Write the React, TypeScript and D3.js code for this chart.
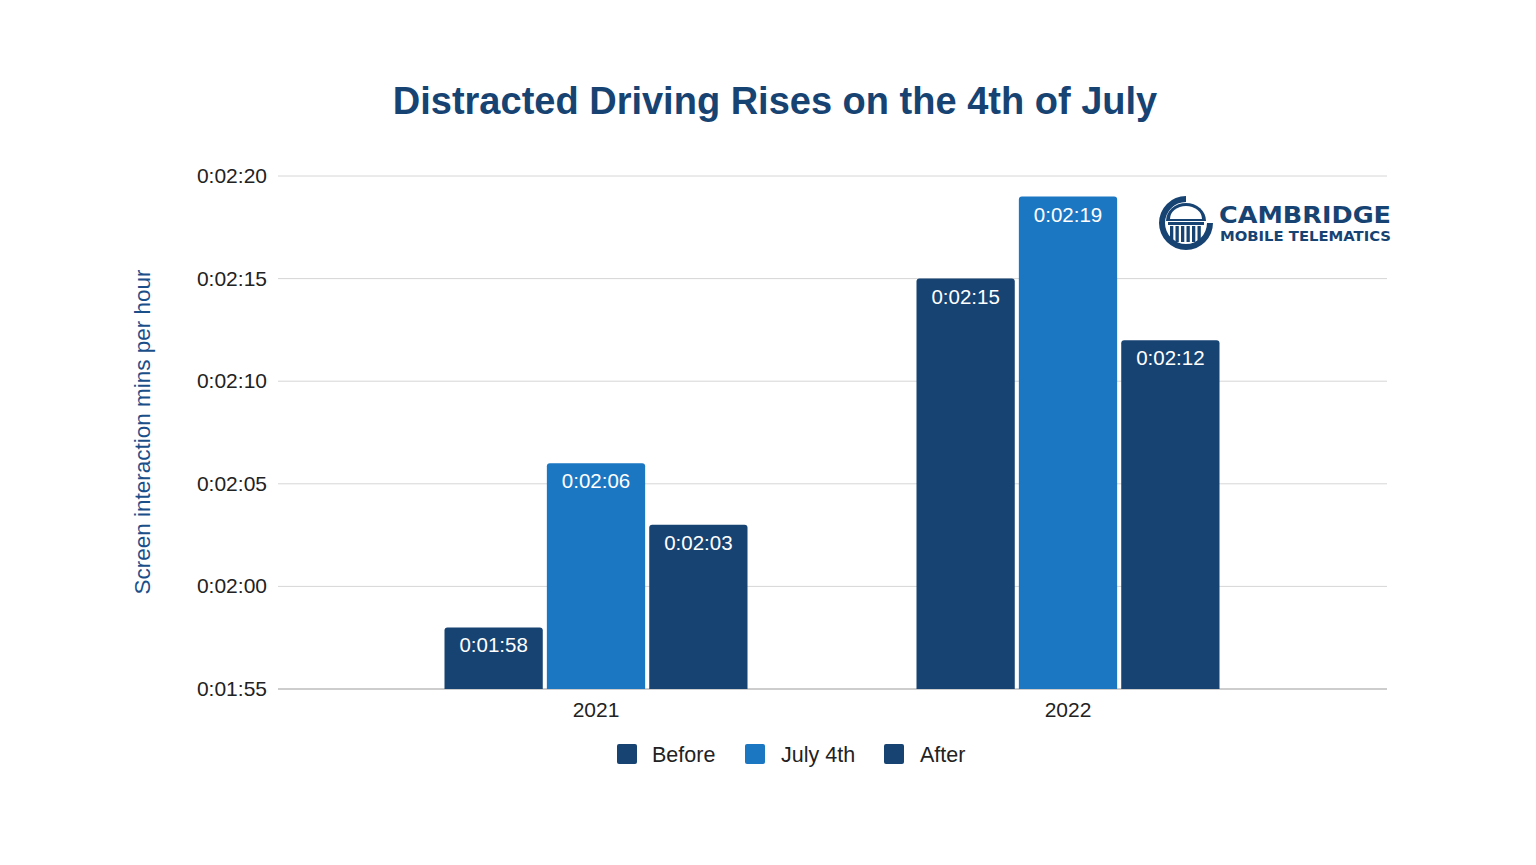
import React from "react";
import * as d3 from "d3";

const years = ["2021", "2022"];
const seriesNames = ["Before", "July 4th", "After"];
const beforeValues = [118, 135];
const july4Values = [126, 139];
const afterValues = [123, 132];
const yTicks = [115, 120, 125, 130, 135, 140];

const DARK = "#174373";
const LIGHT = "#1c77c3";
const seriesColors = [DARK, LIGHT, DARK];

const fmt = (s: number) => {
  const m = Math.floor(s / 60);
  const sec = s % 60;
  return `0:${String(m).padStart(2, "0")}:${String(sec).padStart(2, "0")}`;
};

export default function App() {
  const W = 1536, H = 865;
  const y = d3.scaleLinear().domain([115, 140]).range([689, 176]);
  const x0 = d3.scaleBand().domain(years).range([360, 1304]).paddingInner(0).paddingOuter(0);
  const x1 = d3.scaleBand().domain(seriesNames).range([84.5, 472 - 84.5]).paddingInner(0.04);
  const series = [beforeValues, july4Values, afterValues];
  const font = "'Liberation Sans', Arial, sans-serif";

  const roundTop = (x: number, yTop: number, w: number, h: number, r: number) =>
    `M${x},${yTop + h}V${yTop + r}Q${x},${yTop} ${x + r},${yTop}H${x + w - r}Q${x + w},${yTop} ${x + w},${yTop + r}V${yTop + h}Z`;

  const legendItems = [
    { name: "Before", sx: 617, tx: 652 },
    { name: "July 4th", sx: 745, tx: 781 },
    { name: "After", sx: 884, tx: 920 },
  ];

  return (
    <svg width={W} height={H} style={{ display: "block", margin: -8 }} fontFamily={font}>
      <rect width={W} height={H} fill="#fff" />
      <text x={775} y={114} textAnchor="middle" fontSize={38} fontWeight="bold" fill={DARK}>
        Distracted Driving Rises on the 4th of July
      </text>
      {yTicks.map((t) => (
        <g key={t}>
          <line x1={278} x2={1387} y1={y(t)} y2={y(t)} stroke={t === 115 ? "#bdbdbd" : "#d6d6d6"} strokeWidth={t === 115 ? 1.5 : 1} />
          <text x={267} y={y(t) + 7} textAnchor="end" fontSize={21} fill="#222">
            {fmt(t)}
          </text>
        </g>
      ))}
      <text transform="translate(150,432) rotate(-90)" textAnchor="middle" fontSize={22.5} fill="#1b4f8a">
        Screen interaction mins per hour
      </text>
      {years.map((yr, i) => (
        <g key={yr} transform={`translate(${x0(yr)},0)`}>
          {seriesNames.map((s, j) => {
            const v = series[j][i];
            const bx = x1(s)!;
            const bw = x1.bandwidth();
            const top = y(v);
            return (
              <g key={s}>
                <path d={roundTop(bx, top, bw, 689 - top, 3)} fill={seriesColors[j]} />
                <text x={bx + bw / 2} y={top + 25} textAnchor="middle" fontSize={20.5} fill="#fff">
                  {fmt(v)}
                </text>
              </g>
            );
          })}
          <text x={x0.bandwidth() / 2} y={717} textAnchor="middle" fontSize={21} fill="#222">
            {yr}
          </text>
        </g>
      ))}
      {legendItems.map((l, j) => (
        <g key={l.name}>
          <rect x={l.sx} y={744} width={20} height={20} rx={2} fill={seriesColors[j]} />
          <text x={l.tx} y={761.5} fontSize={21.5} fill="#222">
            {l.name}
          </text>
        </g>
      ))}
      {/* Logo */}
      <g fill={DARK}>
        <path d="M1186,196 A27,27 0 1 0 1213,223 L1207,223 A21,21 0 1 1 1186,202 Z" />
        <path d="M1166,221 A20,18 0 0 1 1206,221 Z" fill={DARK} />
        <path d="M1170,219 A16,13 0 0 1 1202,219 Z" fill="#fff" />
        <rect x={1168} y={222} width={36} height={3} />
        {[0, 1, 2, 3, 4, 5].map((k) => (
          <rect key={k} x={1170 + k * 5.5} y={226} width={3.3} height={16} />
        ))}
        <text x={1219} y={223} fontSize={23.5} fontWeight="bold" fontFamily="'DejaVu Sans', sans-serif" textLength={172} lengthAdjust="spacingAndGlyphs">
          CAMBRIDGE
        </text>
        <text x={1220} y={241} fontSize={14} fontWeight="bold" fontFamily="'DejaVu Sans', sans-serif" textLength={171} lengthAdjust="spacingAndGlyphs">
          MOBILE TELEMATICS
        </text>
      </g>
    </svg>
  );
}
